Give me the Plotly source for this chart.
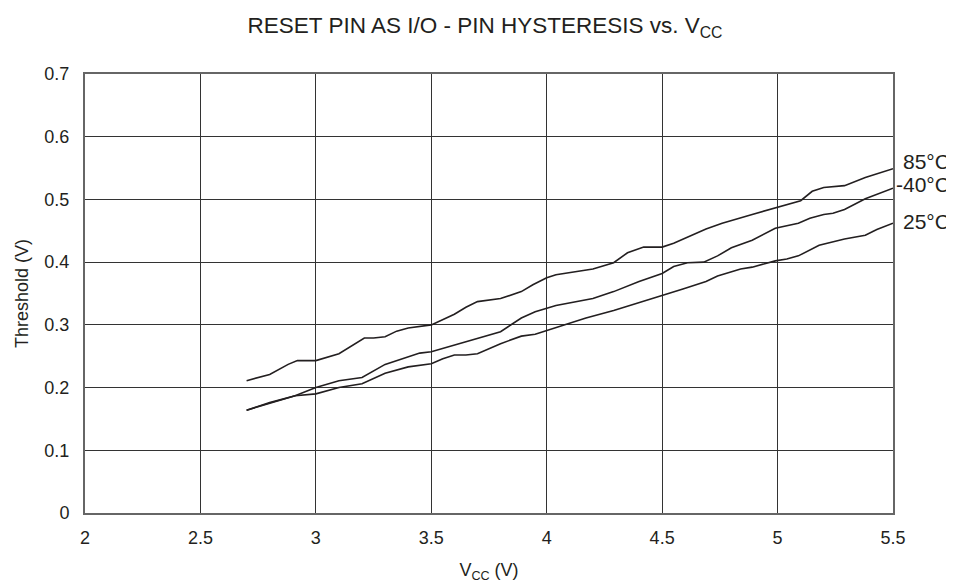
import plotly.graph_objects as go

# Data
vcc_85 = [2.70, 2.80, 2.88, 2.92, 3.00, 3.10, 3.21, 3.25, 3.30, 3.35, 3.40, 3.50, 3.60, 3.65,
          3.70, 3.80, 3.89, 3.94, 4.00, 4.04, 4.20, 4.29, 4.35, 4.42, 4.50, 4.55, 4.69, 4.76,
          4.89, 4.99, 5.10, 5.15, 5.20, 5.29, 5.38, 5.50]
thr_85 = [0.211, 0.221, 0.237, 0.243, 0.243, 0.254, 0.279, 0.279, 0.281, 0.290, 0.295, 0.300,
          0.317, 0.328, 0.337, 0.342, 0.353, 0.364, 0.375, 0.380, 0.389, 0.399, 0.415, 0.424,
          0.424, 0.430, 0.453, 0.462, 0.476, 0.486, 0.498, 0.513, 0.519, 0.522, 0.535, 0.549]

vcc_m40 = [2.70, 2.80, 2.91, 3.00, 3.10, 3.20, 3.30, 3.40, 3.45, 3.50, 3.60, 3.70, 3.80, 3.89,
           3.95, 4.04, 4.20, 4.29, 4.40, 4.50, 4.55, 4.61, 4.68, 4.74, 4.80, 4.89, 4.94, 4.99,
           5.09, 5.14, 5.20, 5.24, 5.29, 5.38, 5.50]
thr_m40 = [0.164, 0.176, 0.187, 0.200, 0.211, 0.216, 0.237, 0.249, 0.255, 0.257, 0.268, 0.279,
           0.289, 0.311, 0.321, 0.331, 0.342, 0.353, 0.369, 0.382, 0.393, 0.399, 0.400, 0.410,
           0.423, 0.435, 0.445, 0.454, 0.462, 0.470, 0.476, 0.478, 0.484, 0.501, 0.518]

vcc_25 = [2.70, 2.80, 2.91, 3.00, 3.10, 3.20, 3.30, 3.40, 3.50, 3.55, 3.60, 3.65, 3.70, 3.80,
          3.89, 3.95, 4.04, 4.17, 4.29, 4.49, 4.59, 4.69, 4.74, 4.84, 4.89, 4.99, 5.04, 5.09,
          5.18, 5.29, 5.38, 5.43, 5.50]
thr_25 = [0.164, 0.175, 0.187, 0.190, 0.200, 0.206, 0.223, 0.233, 0.238, 0.246, 0.252, 0.252,
          0.254, 0.270, 0.282, 0.285, 0.296, 0.311, 0.323, 0.345, 0.357, 0.369, 0.378, 0.389,
          0.392, 0.402, 0.405, 0.410, 0.427, 0.437, 0.443, 0.452, 0.462]

series = [("85°C", vcc_85, thr_85), ("-40°C", vcc_m40, thr_m40), ("25°C", vcc_25, thr_25)]
label_offsets = [(8, 7), (1, 4), (8, 2)]

FONT = "Liberation Sans, Arial, sans-serif"
TXT = "#231f20"

fig = go.Figure()
for name, xs, ys in series:
    fig.add_trace(go.Scatter(x=xs, y=ys, mode="lines", name=name,
                             line=dict(color="#231f20", width=1.6), showlegend=False))

for (name, xs, ys), (dx, dy) in zip(series, label_offsets):
    fig.add_annotation(x=xs[-1], y=ys[-1], text=name, showarrow=False,
                       xanchor="left", yanchor="middle", xshift=dx, yshift=dy,
                       font=dict(family=FONT, size=21, color=TXT))

fig.update_layout(
    width=954, height=582,
    margin=dict(l=77, r=69, t=66, b=77),
    paper_bgcolor="white", plot_bgcolor="white",
    font=dict(family=FONT, size=18, color=TXT),
    title=dict(text="RESET PIN AS I/O - PIN HYSTERESIS vs. V<sub>CC</sub>",
               x=0.5, xanchor="center", y=0.97, yanchor="middle",
               font=dict(family=FONT, size=22.5, color=TXT)),
)
fig.update_xaxes(range=[2, 5.5], dtick=0.5, tick0=2, showgrid=True, gridcolor="#333333",
                 gridwidth=1, showline=True, linecolor="#666666", linewidth=2, mirror=True,
                 zeroline=False, ticks="", ticklabelstandoff=7,
                 title=dict(text="V<sub>CC</sub> (V)", standoff=17,
                            font=dict(family=FONT, size=18, color=TXT)))
fig.update_yaxes(range=[0, 0.7], dtick=0.1, tick0=0, showgrid=True, gridcolor="#333333",
                 gridwidth=1, showline=True, linecolor="#666666", linewidth=2, mirror=True,
                 zeroline=False, ticks="", ticklabelstandoff=10,
                 title=dict(text="Threshold (V)", standoff=11,
                            font=dict(family=FONT, size=18, color=TXT)))

fig.write_html("out.html")
